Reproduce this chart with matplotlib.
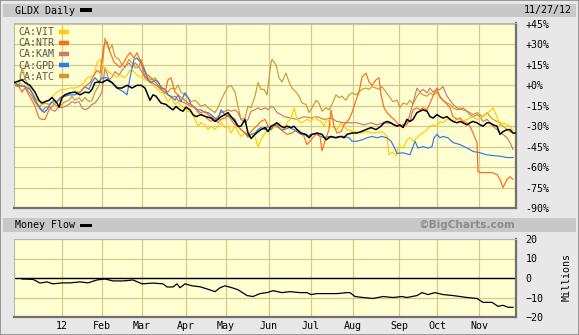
import matplotlib
matplotlib.use("Agg")
import matplotlib.pyplot as plt
from matplotlib.lines import Line2D
from matplotlib.patches import Rectangle

# ---------------- data (trading-day index, value) ----------------
month_days = [24, 44, 64, 86, 106, 127.5, 148.5, 169.5, 192.5, 211.5, 232.5]
month_labels = ["12", "Feb", "Mar", "Apr", "May", "Jun", "Jul", "Aug", "Sep", "Oct", "Nov"]
pct_ticks = [45, 30, 15, 0, -15, -30, -45, -60, -75, -90]
pct_labels = ["+45%", "+30%", "+15%", "+0%", "-15%", "-30%", "-45%", "-60%", "-75%", "-90%"]
mf_ticks = [20, 10, 0, -10, -20]

gldx = [(0,2),(4,4),(5.5,2),(8,0),(10.5,-5),(12.5,-11),(14,-13),(15.5,-12),(17.5,-11),(19,-9),(21.5,-13),(22.5,-16),(24,-9),(25.5,-7),(28,-5.5),(30.5,-5),(33,-7),(35.5,-5),(37.5,-5.5),(39,-3),(40.5,2),(42.5,2.5),(44,2),(46.5,4),(49,2),(51.5,-2),(54,-2),(56.5,0),(59,-2),(61.5,0),(63.5,0),(65.5,-2),(68,-11),(69.5,-7),(71,-8),(73.5,-13),(76,-14),(78,-16.5),(79.5,-18),(81,-15.5),(83,-18),(84.5,-19),(86,-16),(88,-18),(89.5,-21.5),(91,-23),(93.5,-21.5),(96,-23),(98.5,-24),(100.5,-26.5),(102,-25),(103.5,-23),(105.5,-21.5),(107,-20),(108.5,-23),(110.5,-26.5),(112,-30),(113.5,-30),(115.5,-25),(117,-35),(118.5,-39),(120.5,-36),(122,-34),(123.5,-32.5),(125.5,-31),(127,-34),(128.5,-30),(130,-29),(131.5,-27.5),(133.5,-30),(135,-31),(136.5,-30),(138.5,-31),(140,-30),(141.5,-32.5),(143.5,-35),(146,-36),(147.5,-38.5),(149,-36),(151.5,-35),(154,-36),(156,-40),(158.5,-37.5),(161,-38.5),(163.5,-37.5),(165,-38.5),(166.5,-36),(169,-35),(171.5,-35),(173.5,-34),(176,-32.5),(178.5,-31),(181,-32.5),(183.5,-30),(185,-27.5),(186.5,-26.5),(188.5,-27.5),(190,-29),(191.5,-30),(193,-29),(194.5,-31),(196.5,-25),(198,-26.5),(199.5,-25),(201.5,-20),(203,-19),(204.5,-18),(206.5,-19),(208,-23),(209.5,-24),(211.5,-21.5),(213,-23),(214.5,-24),(216.5,-23),(218,-25),(219.5,-26.5),(221.5,-27.5),(223,-26.5),(224.5,-27.5),(226.5,-29),(228,-27.5),(229.5,-26.5),(231.5,-27.5),(233,-29),(234.5,-30),(236.5,-27.5),(238,-27.5),(239.5,-29),(241.5,-30),(243,-36),(244.5,-34),(246.5,-32.5),(248,-32.5),(249.5,-35),(250.5,-35)]

vit = [(0,0),(2.5,2.5),(5,-1),(7.5,-2),(9,-5),(10.5,-9),(12.5,-12),(14,-14),(15.5,-12),(17.5,-11),(20,-7),(21.5,-5),(24,-3),(25.5,-3),(28,-2),(30.5,-2),(32.5,-1),(35,2),(36.5,5.5),(38,6),(40,7.5),(41.5,16.5),(43,19),(45,13),(46.5,11),(48,9),(50,7.5),(51.5,6),(53,7.5),(55,5.5),(56.5,7.5),(58,11),(60,10),(61.5,7.5),(62.5,7),(63.5,6),(65.5,4),(68,2),(70.5,-1),(73,-5),(74.5,-5.5),(77,-12),(78.5,-9),(80.5,-14),(82,-12),(83.5,-15.5),(85.5,-16.5),(87,-19),(88.5,-20),(90.5,-25),(92,-30),(93.5,-27.5),(95.5,-29),(97,-32.5),(98.5,-30),(100.5,-32.5),(102,-30),(103.5,-27.5),(105.5,-31),(107,-30),(108.5,-35),(110.5,-30),(112,-34),(113.5,-37.5),(115.5,-35),(117,-38.5),(118.5,-36),(120.5,-37.5),(122,-45),(123.5,-40),(125.5,-35),(127,-32.5),(128.5,-33),(130,-31),(133.5,-30),(135,-32.5),(136.5,-27.5),(138.5,-24),(140,-16.5),(141.5,-25),(143.5,-27.5),(145,-26.5),(146.5,-25),(148.5,-26.5),(150,-23),(151.5,-25),(153.5,-26.5),(155,-30),(156.5,-24),(158.5,-30),(160,-31),(161.5,-32.5),(163.5,-27.5),(165,-30),(166.5,-32.5),(170,-34),(173.5,-35),(176.5,-34),(180,-35),(183.5,-34),(185,-35),(186.5,-37.5),(187.5,-51),(189,-49),(190,-50),(191,-52),(192,-46),(193,-45),(194.5,-46),(196.5,-40),(198,-38.5),(199.5,-41),(201.5,-38.5),(203,-36),(204.5,-35),(206.5,-32.5),(208,-30),(209.5,-29),(211.5,-30),(213,-26.5),(214.5,-27.5),(216.5,-25),(218,-24),(219.5,-26.5),(221.5,-25),(223,-24),(224.5,-26.5),(226.5,-25),(228,-24),(229.5,-23),(231.5,-25),(234.5,-23),(238,-19),(239.5,-16.5),(241.5,-23),(243,-30),(244.5,-27.5),(246.5,-29),(248,-30),(249.5,-33)]

ntr = [(0,0),(2.5,-1),(4,-5),(5.5,-2),(7.5,-7),(9,-11),(10.5,-15.5),(12.5,-24),(14,-25),(15.5,-25),(17.5,-18),(19,-15.5),(20.5,-13),(22.5,-11),(24,-8),(25.5,-7),(28,-5.5),(30.5,-5),(33,-5),(35.5,-1),(38,2),(40,7.5),(41.5,11),(43,9),(45,29.5),(46.5,32),(48,24.5),(50,17),(51.5,15),(53,13),(55,17),(56.5,21),(58,24),(60,20),(61.5,24),(63.5,16.5),(65.5,6),(67,7.5),(68.5,5.5),(70.5,2.5),(72,0),(73.5,-3),(75.5,-5.5),(77,4),(78.5,5.5),(80.5,-5),(82,-7),(83.5,-9),(85.5,-11),(87,-13),(88.5,-14),(90.5,-16.5),(92,-19),(93.5,-20),(95.5,-19),(97,-21.5),(98.5,-23),(100.5,-25),(102,-27.5),(103.5,-25),(105.5,-24),(107,-21.5),(108.5,-25),(110.5,-29),(112,-30),(113.5,-32.5),(115.5,-35),(117,-36),(118.5,-34),(120.5,-31),(122,-29),(123.5,-26.5),(125.5,-25),(127,-30),(128.5,-31),(131,-27.5),(133.5,-32.5),(136.5,-36),(139,-35),(141.5,-32.5),(143.5,-35),(145,-37.5),(146.5,-43.5),(148.5,-40),(150,-37.5),(151.5,-35),(153,-37.5),(154,-48),(156,-38.5),(157.5,-32.5),(158.5,-18),(160,-30),(161.5,-35),(163.5,-34),(165,-29),(167.5,-25),(169,-20),(171,-11),(172.5,-5),(174,6),(176,9),(177.5,2.5),(179,0),(181,4),(182.5,5.5),(183.5,-7),(185,-16.5),(186.5,-20),(188.5,-23),(190,-25),(191.5,-27.5),(193,-30),(194.5,-29),(196.5,-27.5),(198,-26.5),(199.5,-18),(201.5,-16.5),(203,-18),(204.5,-16.5),(206.5,-18),(208,-13),(209.5,-8),(211.5,-2),(213,-9),(214.5,-11),(216.5,-14),(218,-16.5),(219.5,-23),(221.5,-25),(223,-24),(224.5,-26.5),(226.5,-27.5),(228,-30),(229.5,-35),(231.5,-42),(232,-63.5),(234,-64),(236.5,-64),(239,-64),(241.5,-65.5),(243,-69),(244.5,-75),(246.5,-69),(248,-67),(249.5,-69)]

kam = [(0,0),(2.5,-1),(5,0),(7.5,-5),(9,-8),(10.5,-12),(12.5,-16.5),(14,-19),(15.5,-16.5),(17.5,-15.5),(19,-18),(20.5,-19),(22.5,-15.5),(24,-16.5),(25.5,-15.5),(27.5,-14),(29,-12),(30.5,-13),(32.5,-12),(34,-16.5),(35.5,-18),(37.5,-16.5),(39,-14),(40.5,-13),(42.5,-9),(44,-5),(45.5,13),(47.5,4),(49,6),(50.5,10),(52.5,7.5),(54,11),(55.5,13.5),(57.5,16.5),(59,13),(60.5,16.5),(62.5,13.5),(63.5,11),(65.5,5.5),(67,4),(68.5,2.5),(72,-1),(73.5,-3),(75.5,-5.5),(77,-7),(78.5,-9),(80.5,-8),(82,-11),(83.5,-12),(85.5,-13),(87,-14),(88.5,-15.5),(90.5,-16.5),(92,-20),(93.5,-21.5),(95.5,-23),(97,-25),(98.5,-26.5),(100.5,-25),(102,-23),(103.5,-20),(105.5,-19),(107,-18),(108.5,-19),(110.5,-18),(112,-20),(113.5,-25),(115.5,-27.5),(117,-25),(118.5,-19),(120.5,-18),(122,-16.5),(123.5,-18),(125.5,-16.5),(127,-18),(128.5,-15.5),(130,-16.5),(131.5,-20),(133.5,-21.5),(135,-23),(138.5,-24),(141.5,-25),(145,-23),(148.5,-24),(151.5,-23),(155,-25),(158.5,-24),(161.5,-26.5),(165,-27.5),(168.5,-27.5),(171.5,-27.5),(175,-29),(178.5,-27.5),(181.5,-29),(185,-27.5),(188.5,-28),(190,-29),(193,-30),(196.5,-29),(199.5,-13),(201.5,-2),(203,-5),(204.5,-3),(206.5,-5.5),(208,-2),(209.5,-5),(211.5,-3),(213,-3),(214.5,-1),(216.5,-8),(218,-11),(219.5,-14),(221.5,-16.5),(223,-18),(224.5,-16.5),(226.5,-19),(228,-21.5),(229.5,-23),(231.5,-21.5),(233,-23),(234.5,-26.5),(236.5,-25),(238,-27.5),(239.5,-30),(241.5,-32.5),(243,-35),(244.5,-36),(246.5,-38.5),(248,-42),(249.5,-47)]

gpd = [(0,2),(2.5,0),(5.5,-1),(8,-3),(10,-8),(11.5,-13),(13,-16.5),(15,-20),(16.5,-18),(18,-14),(20,-11),(21.5,-12),(23,-9),(25.5,-8),(28,-7),(30.5,-7),(33,-5),(35.5,-1),(37.5,-3),(39,2.5),(40.5,5.5),(42.5,2.5),(44,5.5),(46.5,5.5),(49,2),(52.5,-3),(55,-5),(56.5,-7),(58,5.5),(60,19),(61.5,20),(63.5,16.5),(65.5,10),(67,4),(68.5,2),(70.5,4),(72,2.5),(73.5,-2),(75.5,-3),(77,-7),(78.5,-8),(80.5,-11),(82,-7),(83.5,-12),(85.5,-5.5),(87,-9),(88.5,-14),(90.5,-16.5),(92,-18),(93.5,-18),(95.5,-20),(97,-20),(98.5,-21.5),(100.5,-24),(102,-25),(103.5,-18),(105.5,-21.5),(107,-23),(108.5,-23),(110.5,-25),(112,-30),(113.5,-32.5),(115.5,-35),(117,-37.5),(118.5,-36),(120.5,-35),(122,-32.5),(123.5,-31),(125.5,-32.5),(127,-30),(128.5,-32.5),(130,-29),(131.5,-30),(133.5,-32.5),(135,-32.5),(137.5,-31),(140,-32.5),(141.5,-34),(143.5,-36),(145,-36),(146.5,-37.5),(148.5,-36),(151,-36),(153.5,-37.5),(155,-38.5),(157.5,-37.5),(160,-38.5),(162.5,-37.5),(165,-37.5),(167.5,-38.5),(169,-41),(171.5,-41),(174,-40),(176.5,-38.5),(179,-37.5),(181.5,-38.5),(184,-37.5),(186.5,-38.5),(188.5,-41),(190,-45),(191.5,-50),(194.5,-49.5),(198,-51),(200.5,-41),(202,-46),(204.5,-45),(207,-46),(209,-45),(210,-38.5),(211.5,-36),(213,-38.5),(214.5,-37.5),(217,-38.5),(219.5,-42),(223,-43.5),(226.5,-46),(229.5,-48.5),(233,-49.5),(236.5,-51),(239.5,-51.5),(243,-52),(246.5,-53),(249.5,-53)]

atc = [(0,2),(2.5,0),(4,13),(5.5,5),(7.5,-1),(9,-5),(10.5,-12),(12.5,-15.5),(14,-14),(15.5,-13),(17.5,-14),(19,-12),(20.5,-14),(22.5,-16.5),(24,-14),(25.5,-12),(27.5,-11),(29,-8),(30.5,-11),(32.5,-9),(34,-12),(35.5,-9),(37.5,-12),(39,-11),(40.5,-5),(42.5,0),(44,11),(45.5,34.5),(47.5,26),(49,29.5),(50.5,21),(52.5,19),(54,15),(55.5,13.5),(57.5,19),(59,16.5),(60.5,13),(62.5,13.5),(63.5,19),(65.5,11),(67,5.5),(68.5,4),(70.5,5.5),(72,2.5),(73.5,-1),(75.5,-3),(77,-5),(78.5,-2),(80.5,-3),(82,0),(83.5,-5),(85.5,-7),(87,-9),(88.5,-12),(90.5,-11),(92,-13),(93.5,-15.5),(95.5,-14),(97,-16.5),(98.5,-18),(100.5,-20),(102,-16.5),(103.5,-11),(105.5,-5),(107,-1),(108.5,0),(110.5,-5),(112,-15.5),(113.5,-25),(115.5,-24),(117,-15.5),(118.5,-16.5),(120.5,-8),(122,2),(123.5,-3),(125,-3),(126.5,-7),(128.5,16.5),(129,19),(131,15),(132.5,5.5),(134,2.5),(136,9),(137.5,2.5),(139,-2),(141,-5),(142.5,-8),(144,-13),(146,-14),(147.5,-20),(149,-16.5),(151,-11),(152.5,-13),(154,-19),(156,-16.5),(157.5,-18),(159,-14),(161,-7),(162.5,-9),(164,-8),(166,-11),(167.5,-7),(169,-5.5),(171,-7),(172.5,-5),(174,-3),(176,-2),(177.5,-3),(179,-1),(181,-2),(182.5,-3),(184,-1),(186,-5),(187.5,-8),(189.5,-12),(191.5,-11),(193,-16.5),(194.5,-13),(196.5,-14),(198,-11),(199.5,-14),(201.5,-8),(203,-5.5),(204.5,-7),(206.5,-8),(208,-5.5),(209.5,-7),(211.5,-5),(213,-8),(214.5,-11),(216.5,-13),(218,-14),(219.5,-16.5),(221.5,-18),(223,-16.5),(224.5,-18),(226.5,-19),(228,-20),(229.5,-21.5),(231.5,-20),(233,-21.5),(234.5,-23),(236.5,-20),(238,-23),(239.5,-25),(241.5,-26.5),(243,-27.5),(244.5,-30),(246.5,-32.5),(248,-34),(249.5,-35)]

money_flow = [(4,-0.5),(9.5,-0.7),(13,-2.6),(16.5,-2),(19.5,-3),(24,-2.5),(28,-2.5),(33,-2),(37,-2.5),(41.5,-1),(45.5,-0.5),(49.5,-1.5),(54.5,-1.5),(59.5,-1),(64,-3),(69.5,-2.6),(74.5,-3),(76.5,-4.6),(79.5,-4.6),(81.5,-3),(83,-5),(85.5,-3),(89,-4),(93,-4.5),(96.5,-5.6),(100.5,-7),(103,-5),(105.5,-4),(109,-5),(112,-6),(116.5,-9),(119.5,-9.5),(123,-8),(126.5,-7.5),(129.5,-6.5),(134,-7.5),(138,-7),(143,-7.5),(146.5,-7.5),(148.5,-8.5),(151.5,-8),(156.5,-8),(161.5,-8),(166.5,-7.5),(168,-7.5),(170.5,-9.5),(174.5,-10),(179.5,-10.5),(184.5,-9.5),(189.5,-10),(194,-9.5),(196.5,-10),(201.5,-9),(204,-7.5),(207,-8.5),(210.5,-7.5),(214.5,-8.5),(219.5,-9),(223,-9.5),(226.5,-10),(231.5,-10.5),(234.5,-12.5),(239,-12.5),(242,-14.5),(244.5,-14),(247,-15),(249.5,-15)]

series = [("CA:VIT", vit, "#FFCC00"), ("CA:NTR", ntr, "#FF6A1A"),
          ("CA:KAM", kam, "#CC7A6B"), ("CA:GPD", gpd, "#2F7AE8"),
          ("CA:ATC", atc, "#CC9933")]

# ---------------- figure ----------------
W, H = 579, 335
MONO = "DejaVu Sans Mono"
FS = 7.2
plt.rcParams["font.family"] = MONO
fig = plt.figure(figsize=(W / 100, H / 100), dpi=100, facecolor="#E8E8E8")

def fx(px):
    return px / W

def fy(py):
    return 1 - py / H

# outer frame and header bars
fig.patches.append(Rectangle((0, 0), 1, 1, transform=fig.transFigure,
                             fill=False, edgecolor="#8A8A8A", lw=1.2))
for top, bot in [(4, 17), (218, 232)]:
    fig.patches.append(Rectangle((fx(3), fy(bot)), fx(576) - fx(3), (bot - top) / H,
                                 transform=fig.transFigure, facecolor="#C8C8C8",
                                 edgecolor="none"))
fig.text(fx(15), fy(10.5), "GLDX Daily", fontsize=FS, va="center", ha="left")
fig.patches.append(Rectangle((fx(80), fy(12)), fx(12), 3.5 / H,
                             transform=fig.transFigure, facecolor="black"))
fig.text(fx(572), fy(10.5), "11/27/12", fontsize=FS, va="center", ha="right")
fig.text(fx(15), fy(225.5), "Money Flow", fontsize=FS, va="center", ha="left")
fig.patches.append(Rectangle((fx(80), fy(227)), fx(12), 3.5 / H,
                             transform=fig.transFigure, facecolor="black"))
fig.text(fx(515), fy(225), "\u00a9BigCharts.com", fontsize=7.6, va="center",
         ha="right", color="#8C8C8C", fontweight="bold", family="DejaVu Sans")
fig.text(fx(567), fy(277), "Millions", fontsize=FS, va="center", ha="center",
         rotation=90)

BG = "#FFFFD2"
GRID = "#D0C992"

def style_axes(a):
    a.set_facecolor(BG)
    a.grid(True, color=GRID, lw=0.9)
    a.set_axisbelow(True)
    a.spines["top"].set_color("#B8B8B8")
    a.spines["left"].set_color("#B8B8B8")
    a.spines["bottom"].set_color("#707070")
    a.spines["right"].set_color("#707070")
    a.spines["bottom"].set_linewidth(1.6)
    a.spines["right"].set_linewidth(1.6)
    a.yaxis.tick_right()
    a.tick_params(axis="y", length=0, pad=7, labelsize=FS)
    a.set_xticks(month_days)
    a.set_xlim(0, 251)

# main panel
ax = fig.add_axes([fx(14), fy(208), fx(516) - fx(14), (208 - 23) / H])
style_axes(ax)
ax.set_ylim(-90, 45.7)
ax.set_yticks(pct_ticks)
ax.set_yticklabels(pct_labels)
ax.tick_params(axis="x", length=0, labelbottom=False)

order = {"CA:ATC": 2.0, "CA:KAM": 2.1, "CA:VIT": 2.2, "CA:GPD": 2.3, "CA:NTR": 2.4}
handles = []
for name, pts, col in series:
    xs = [p[0] for p in pts]
    ys = [p[1] for p in pts]
    ax.plot(xs, ys, color=col, lw=0.85, zorder=order[name])
    handles.append(Line2D([], [], color=col, lw=3.2, solid_capstyle="butt"))
ax.plot([p[0] for p in gldx], [p[1] for p in gldx], color="black", lw=1.1,
        zorder=3)

leg = ax.legend(handles, [s[0] for s in series], loc="upper left",
                bbox_to_anchor=(0.0, 1.0), frameon=False, markerfirst=False,
                handlelength=1.0, handletextpad=0.5, labelspacing=0.12,
                borderaxespad=0.15, borderpad=0.25, fontsize=FS,
                labelcolor="#555555")
leg.set_zorder(1.5)

# money flow panel
ax2 = fig.add_axes([fx(14), fy(317), fx(516) - fx(14), (317 - 239) / H])
style_axes(ax2)
ax2.set_ylim(-20, 20)
ax2.set_yticks(mf_ticks)
ax2.set_xticklabels(month_labels)
ax2.tick_params(axis="x", length=0, pad=3, labelsize=FS)
ax2.axhline(0, color="black", lw=1.0, zorder=2)
ax2.plot([p[0] for p in money_flow], [p[1] for p in money_flow], color="black",
         lw=0.9, zorder=3)

fig.savefig("out.png", dpi=100, facecolor=fig.get_facecolor())
